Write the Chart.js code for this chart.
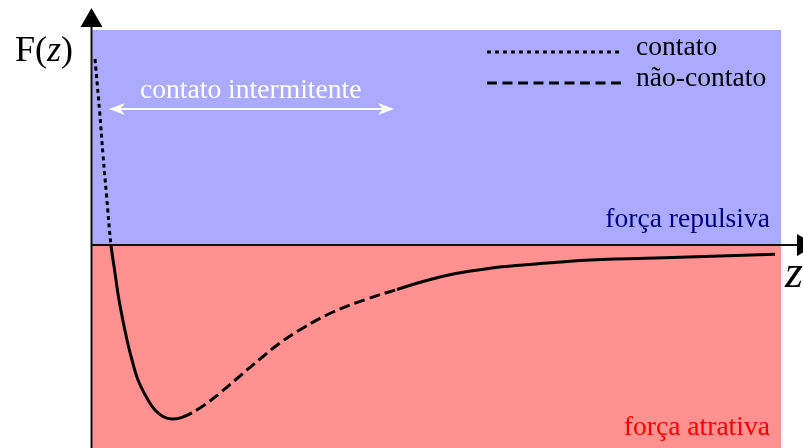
<!DOCTYPE html>
<html>
<head>
<meta charset="utf-8">
<script src="https://cdn.jsdelivr.net/npm/chart.js@4/dist/chart.umd.min.js"></script>
<style>
  html, body { margin: 0; padding: 0; background: #fff; }
  #wrap { width: 803px; height: 448px; position: relative; }
</style>
</head>
<body>
<div id="wrap"><canvas id="forceChart"></canvas></div>
<script>
// ── Force curve F(z) ─────────────────────────────────
// distance z (arbitrary units) and force F (arbitrary units)
const Z = [0.03, 0.075, 0.11, 0.145, 0.19, 0.23, 0.27, 0.35, 0.40, 0.46, 0.56, 0.63, 0.71, 0.80,
           0.90, 1.08, 1.28, 1.48, 1.68, 1.88, 2.11, 2.41, 2.75, 3.05,
           3.31, 3.65, 3.98, 4.31, 4.65, 4.98, 5.88, 6.83];
const F = [1.86, 1.35, 0.90, 0.50, 0.00, -0.28, -0.55, -0.95, -1.15, -1.35, -1.55, -1.65, -1.715, -1.74,
           -1.723, -1.63, -1.48, -1.31, -1.14, -0.98, -0.83, -0.67, -0.54, -0.445,
           -0.365, -0.283, -0.233, -0.20, -0.173, -0.15, -0.123, -0.093];

// regimes along z
const CONTACT_END = 0.19;           // dotted up to here
const NONCONTACT = [0.90, 3.05];    // dashed between these
const Z_RANGE = [0, 6.89];
const F_RANGE = [-2.03, 2.15];

const SERIF = '"Liberation Serif", "DejaVu Serif", serif';
const BLUE = '#AAAAFF';
const RED = '#FF9191';

// plain triangle for the axes
function triangle(ctx, x, y, angle, len, half) {
  ctx.save();
  ctx.translate(x, y);
  ctx.rotate(angle);
  ctx.beginPath();
  ctx.moveTo(0, 0);
  ctx.lineTo(-len, -half);
  ctx.lineTo(-len, half);
  ctx.closePath();
  ctx.fill();
  ctx.restore();
}

// swept head for the span marker
function stealth(ctx, x, y, angle, len, half) {
  ctx.save();
  ctx.translate(x, y);
  ctx.rotate(angle);
  ctx.beginPath();
  ctx.moveTo(0, 0);
  ctx.lineTo(-len, -half);
  ctx.lineTo(-len * 0.7, 0);
  ctx.lineTo(-len, half);
  ctx.closePath();
  ctx.fill();
  ctx.restore();
}

// Blue/red background split at F = 0
const regionsPlugin = {
  id: 'regions',
  beforeDatasetsDraw(chart) {
    const { ctx, chartArea, scales } = chart;
    const y0 = scales.y.getPixelForValue(0);
    ctx.save();
    ctx.fillStyle = BLUE;
    ctx.fillRect(chartArea.left, chartArea.top, chartArea.right - chartArea.left, y0 - chartArea.top);
    ctx.fillStyle = RED;
    ctx.fillRect(chartArea.left, y0, chartArea.right - chartArea.left, chartArea.bottom - y0);
    ctx.restore();
  }
};

// Axes with arrows, labels and legend
const decorPlugin = {
  id: 'decor',
  afterDatasetsDraw(chart) {
    const { ctx, chartArea, scales } = chart;
    const x0 = chartArea.left - 0.5;
    const y0 = scales.y.getPixelForValue(0);
    ctx.save();

    // axes
    ctx.strokeStyle = '#111';
    ctx.fillStyle = '#000';
    ctx.lineWidth = 2;
    ctx.beginPath();
    ctx.moveTo(x0, chart.height);
    ctx.lineTo(x0, 24);
    ctx.moveTo(x0, y0);
    ctx.lineTo(800, y0);
    ctx.stroke();
    triangle(ctx, x0, 8, -Math.PI / 2, 19, 11);
    triangle(ctx, 816, y0, 0, 19, 11);

    // axis titles
    ctx.textBaseline = 'alphabetic';
    ctx.textAlign = 'left';
    ctx.font = `36px ${SERIF}`;
    let x = 15;
    ctx.fillText('F(', x, 61);
    x += ctx.measureText('F(').width;
    ctx.font = `italic 36px ${SERIF}`;
    ctx.fillText('z', x, 61);
    x += ctx.measureText('z').width;
    ctx.font = `36px ${SERIF}`;
    ctx.fillText(')', x, 61);
    ctx.font = `italic 46px ${SERIF}`;
    ctx.fillText('z', 785, 287);

    // intermittent contact span
    ctx.fillStyle = '#fff';
    ctx.strokeStyle = '#fff';
    ctx.font = `27.6px ${SERIF}`;
    ctx.fillText('contato intermitente', 140, 98);
    ctx.lineWidth = 2;
    ctx.beginPath();
    ctx.moveTo(114, 109);
    ctx.lineTo(389, 109);
    ctx.stroke();
    stealth(ctx, 109, 109, Math.PI, 16, 6);
    stealth(ctx, 394, 109, 0, 16, 6);

    // region labels
    ctx.textAlign = 'right';
    ctx.fillStyle = '#000080';
    ctx.fillText('força repulsiva', 770, 227);
    ctx.fillStyle = '#FF0000';
    ctx.fillText('força atrativa', 770, 435);

    // legend
    ctx.strokeStyle = '#000';
    ctx.fillStyle = '#000';
    ctx.lineWidth = 3;
    ctx.setLineDash([4, 4]);
    ctx.beginPath();
    ctx.moveTo(487, 52);
    ctx.lineTo(623, 52);
    ctx.stroke();
    ctx.setLineDash([10, 5.5]);
    ctx.beginPath();
    ctx.moveTo(487, 83);
    ctx.lineTo(623, 83);
    ctx.stroke();
    ctx.setLineDash([]);
    ctx.textAlign = 'left';
    ctx.fillText('contato', 636, 55);
    ctx.fillText('não-contato', 636, 86);

    ctx.restore();
  }
};

function dashFor(z) {
  if (z < CONTACT_END) return [4, 3.5];
  if (z >= NONCONTACT[0] && z < NONCONTACT[1]) return [11, 5];
  return [];
}

window.addEventListener('DOMContentLoaded', () => {
  const ctx = document.getElementById('forceChart').getContext('2d');
  new Chart(ctx, {
    type: 'line',
    plugins: [regionsPlugin, decorPlugin],
    data: {
      datasets: [{
        label: 'F(z)',
        data: Z.map((z, i) => ({ x: z, y: F[i] })),
        borderColor: '#000',
        borderWidth: 3,
        pointRadius: 0,
        tension: 0.4,
        fill: false,
        segment: {
          borderDash: c => dashFor(c.p0.parsed.x)
        }
      }]
    },
    options: {
      responsive: true,
      maintainAspectRatio: false,
      animation: false,
      layout: { padding: { left: 92, right: 22, top: 30, bottom: 0 } },
      plugins: { legend: { display: false }, tooltip: { enabled: false } },
      scales: {
        x: { type: 'linear', display: false, min: Z_RANGE[0], max: Z_RANGE[1] },
        y: { display: false, min: F_RANGE[0], max: F_RANGE[1] }
      }
    }
  });
});
</script>
</body>
</html>
